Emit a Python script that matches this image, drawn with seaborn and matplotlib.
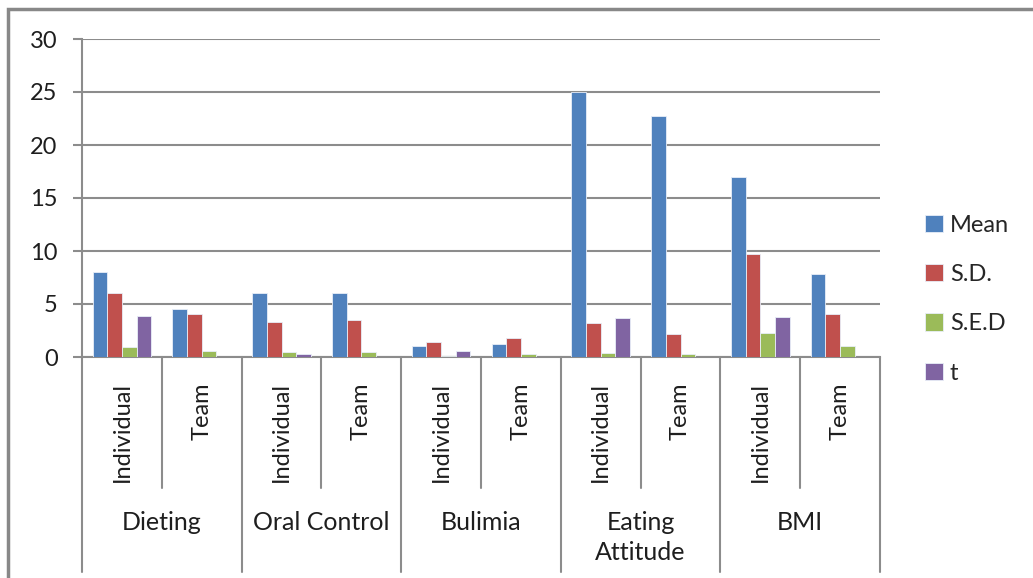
import numpy as np
import pandas as pd
import seaborn as sns
import matplotlib
matplotlib.use("Agg")
import matplotlib.pyplot as plt
from matplotlib.patches import Rectangle
import matplotlib.transforms as mtransforms

# ---- data ----
groups = ["Dieting", "Oral Control", "Bulimia", "Eating\nAttitude", "BMI"]
subgroups = ["Individual", "Team"]
measures = ["Mean", "S.D.", "S.E.D", "t"]
mean_vals = [8.0, 4.5, 6.0, 6.0, 1.0, 1.2, 25.0, 22.7, 17.0, 7.8]
sd_vals = [6.0, 4.1, 3.3, 3.5, 1.4, 1.8, 3.2, 2.2, 9.7, 4.1]
sed_vals = [0.9, 0.6, 0.5, 0.5, 0.1, 0.25, 0.4, 0.25, 2.3, 1.0]
t_vals = [3.9, np.nan, 0.25, np.nan, 0.6, np.nan, 3.65, np.nan, 3.8, np.nan]
colors = ["#4F81BD", "#C0504D", "#9BBB59", "#8064A2"]
yticks = [0, 5, 10, 15, 20, 25, 30]

keys = [f"{g}|{s}" for g in groups for s in subgroups]
rows = []
for m, vals in zip(measures, [mean_vals, sd_vals, sed_vals, t_vals]):
    for k, v in zip(keys, vals):
        if not np.isnan(v):
            rows.append({"key": k, "measure": m, "value": v})
df = pd.DataFrame(rows)

sns.set_theme(style="white")
plt.rcParams["font.family"] = ["Lato", "DejaVu Sans"]
FS = 17
FSG = 18
TXT = "#1e1e1e"
GRID = "#8c8c8c"

W, H = 1033, 578
fig = plt.figure(figsize=(W / 100, H / 100), dpi=100)
fig.patch.set_facecolor("white")
L, R, T, B = 82, 880, 39, 357
ax = fig.add_axes([L / W, 1 - B / H, (R - L) / W, (B - T) / H])

sns.barplot(data=df, x="key", y="value", hue="measure", order=keys,
            hue_order=measures, palette=colors, saturation=1, width=0.735,
            errorbar=None, edgecolor="#e8eef8", linewidth=0.6, ax=ax, zorder=3)

ax.set_ylim(0, 30)
ax.set_yticks(yticks)
ax.set_yticklabels([str(v) for v in yticks], fontsize=FS, color=TXT)
ax.set_xlim(-0.5, len(keys) - 0.5)
ax.set_xlabel("")
ax.set_ylabel("")
ax.yaxis.grid(True, color=GRID, linewidth=1.5, zorder=0)
ax.set_axisbelow(True)
for s in ["top", "right"]:
    ax.spines[s].set_visible(False)
ax.spines["left"].set_color(GRID)
ax.spines["left"].set_linewidth(1.5)
ax.spines["bottom"].set_color(GRID)
ax.spines["bottom"].set_linewidth(1.5)
ax.tick_params(axis="y", length=6.5, width=1.5, color=GRID, pad=11, left=True)

# x tick labels (rotated sub categories)
ax.set_xticks(range(len(keys)))
ax.set_xticklabels([k.split("|")[1] for k in keys], rotation=90, fontsize=FS,
                   color=TXT)
ax.tick_params(axis="x", length=0, pad=18)

# separators and group labels
trans = mtransforms.blended_transform_factory(ax.transData, ax.transAxes)
ysub = (B - 488) / (B - T)
ygrp = (B - 572) / (B - T)
for i in range(len(keys) + 1):
    x = i - 0.5
    yb = ygrp if i % 2 == 0 else ysub
    ax.plot([x, x], [0, yb], transform=trans, color=GRID, lw=1.5,
            clip_on=False, zorder=1)
ylab = (B - 511) / (B - T)
for gi, g in enumerate(groups):
    ax.text(gi * 2 + 0.5, ylab, g, transform=trans, ha="center", va="top",
            fontsize=FSG, color=TXT, linespacing=1.35)

# legend
handles, labels = ax.get_legend_handles_labels()
ax.legend(handles, labels, loc="center left", bbox_to_anchor=(925 / W, 1 - 299 / H),
          bbox_transform=fig.transFigure, frameon=False, fontsize=FS,
          handlelength=0.75, handleheight=0.75, handletextpad=0.3,
          labelspacing=1.2, borderpad=0, borderaxespad=0)

# outer border
fig.patches.append(Rectangle((8 / W, -0.05), 1.1, (1 - 9 / H) + 0.05,
                             transform=fig.transFigure, fill=False,
                             edgecolor="#888888", linewidth=2.5))

fig.savefig("out.png", dpi=100)
